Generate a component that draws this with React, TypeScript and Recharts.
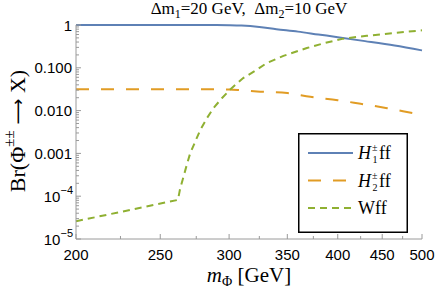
import { LineChart, Line, XAxis, YAxis, Legend } from 'recharts';

// H1± f f branching ratio
const h1Mass = [200, 250, 290, 300, 310, 325, 340, 360, 380, 400, 430, 465, 500];
const h1Br = [1, 1, 0.999, 0.99, 0.97, 0.9, 0.8, 0.7, 0.6, 0.52, 0.42, 0.33, 0.255];

// H2± f f
const h2Mass = [200, 250, 300, 310, 323, 350, 372, 400, 425, 456, 489, 500];
const h2Br = [0.0316, 0.0316, 0.0313, 0.03, 0.028, 0.0257, 0.021, 0.0175, 0.0144, 0.0114, 0.0087, 0.008];

// W f f
const wMass = [200, 230, 262, 263.5, 265.8, 268.2, 270.6, 274.3, 277.9, 282.8, 287.8, 294.3, 302, 311.4, 322.8, 331.4, 346.4, 368.6, 388.6, 405.9, 432, 463.6, 500];
const wBr = [2.6e-5, 4.7e-5, 8.2e-5, 1.5e-4, 2.8e-4, 5.4e-4, 1e-3, 1.9e-3, 3.5e-3, 6.6e-3, 0.0114, 0.0195, 0.0335, 0.0575, 0.09, 0.129, 0.19, 0.29, 0.39, 0.48, 0.56, 0.65, 0.75];

const xMajor = [200, 250, 300, 350, 400, 450, 500];
const xMinor = [225, 275, 325, 375, 425, 475];
const yMajor = [1e-5, 1e-4, 1e-3, 1e-2, 1e-1, 1];
const yMajorText = ['10|−5', '10|−4', '0.001', '0.010', '0.100', '1'];
const yMinor = [1e-5, 1e-4, 1e-3, 1e-2, 1e-1].flatMap(d => [2, 3, 4, 5, 6, 7, 8, 9].map(k => +(d * k).toPrecision(3)));

const BLUE = '#5E81B5';
const ORANGE = '#E19C24';
const GREEN = '#8FB032';
const FRAME = '#9a9a9a';
const SANS = '"Liberation Sans", Arial, sans-serif';
const SERIF = '"Liberation Serif", "Times New Roman", serif';

const toRows = (xs: number[], ys: number[]) => xs.map((m, i) => ({ m, v: ys[i] }));

const XTick = ({ x, y, payload, side }: any) => {
  const major = xMajor.includes(payload.value);
  const len = major ? 5 : 3;
  const dir = side === 'top' ? 1 : -1;
  return (
    <g>
      <line x1={x} x2={x} y1={y} y2={y + dir * len} stroke={FRAME} />
      {major && side !== 'top' && (
        <text x={x} y={y + 15} textAnchor="middle" dominantBaseline="central" fontFamily={SANS} fontSize={15} fill="#000">
          {payload.value}
        </text>
      )}
    </g>
  );
};

const YTick = ({ x, y, payload, side }: any) => {
  const idx = yMajor.indexOf(payload.value);
  const major = idx >= 0;
  const len = major ? 5 : 3;
  const dir = side === 'right' ? -1 : 1;
  let label: any = null;
  if (major && side !== 'right') {
    const t = yMajorText[idx];
    if (t.includes('|')) {
      const [base, exp] = t.split('|');
      label = (
        <text x={x - 3} y={y} textAnchor="end" dominantBaseline="central" fontFamily={SANS} fontSize={15} fill="#000">
          {base}
          <tspan dy={-6} fontSize={11}>{exp}</tspan>
        </text>
      );
    } else {
      label = (
        <text x={x - 4} y={y} textAnchor="end" dominantBaseline="central" fontFamily={SANS} fontSize={15} fill="#000">
          {t}
        </text>
      );
    }
  }
  return (
    <g>
      <line x1={x} x2={x + dir * len} y1={y} y2={y} stroke={FRAME} />
      {label}
    </g>
  );
};

const legendItems = [
  { name: 'H', sub: '1', color: BLUE, dash: undefined },
  { name: 'H', sub: '2', color: ORANGE, dash: '13 12' },
  { name: 'Wff', sub: '', color: GREEN, dash: '7 5' },
];

const renderLegend = () => (
  <svg width={110} height={100} style={{ display: 'block' }}>
    <rect x={0.75} y={0.75} width={108.5} height={98.5} fill="#fff" stroke="#000" strokeWidth={1.5} />
    {legendItems.map((it, i) => {
      const cy = 20 + i * 27.5;
      return (
        <g key={i}>
          <line x1={10} x2={55} y1={cy} y2={cy} stroke={it.color} strokeWidth={2} strokeDasharray={it.dash} />
          {it.sub ? (
            <g fontFamily={SERIF} fill="#000">
              <text x={60} y={cy + 6} fontSize={18} fontStyle="italic">H</text>
              <text x={74} y={cy - 2} fontSize={10}>±</text>
              <text x={74.5} y={cy + 10} fontSize={10}>{it.sub}</text>
              <text x={81} y={cy + 6} fontSize={18}>ff</text>
            </g>
          ) : (
            <text x={60} y={cy + 6} fontSize={18} fontFamily={SERIF} fill="#000">{it.name}</text>
          )}
        </g>
      );
    })}
  </svg>
);

const XLabel = ({ viewBox }: any) => (
  <text x={viewBox.x + viewBox.width / 2} y={282} textAnchor="middle" fontFamily={SERIF} fontSize={21} fill="#000">
    <tspan fontStyle="italic">m</tspan>
    <tspan dy={4} fontSize={14}>Φ</tspan>
    <tspan dy={-4}> [GeV]</tspan>
  </text>
);

const YLabel = () => (
  <text x={17} y={131} transform="rotate(-90, 17, 131)" textAnchor="middle" dominantBaseline="central" fontFamily={SERIF} fontSize={22} fill="#000">
    Br(Φ<tspan dy={-8} fontSize={15}>±±</tspan>
    <tspan dy={8} fontFamily='"DejaVu Sans", sans-serif' fontSize={18}> ⟶ </tspan>
    <tspan>X)</tspan>
  </text>
);

export default function App() {
  return (
    <div style={{ position: 'absolute', left: 0, top: 0, width: 436, height: 294, background: '#fff' }}>
      <div
        style={{
          position: 'absolute',
          left: 76,
          width: 346,
          top: 1,
          textAlign: 'center',
          fontFamily: SERIF,
          fontSize: 17,
          lineHeight: '16px',
          whiteSpace: 'pre',
          color: '#000',
        }}
      >
        Δm<sub style={{ fontSize: 12, lineHeight: 0 }}>1</sub>=20 GeV,  Δm<sub style={{ fontSize: 12, lineHeight: 0 }}>2</sub>=10 GeV
      </div>
      <LineChart width={436} height={294} margin={{ top: 25, right: 14, bottom: 0, left: 0 }}>
        <XAxis
          xAxisId={0}
          dataKey="m"
          type="number"
          scale="log"
          domain={[200, 500]}
          ticks={[...xMajor, ...xMinor]}
          interval={0}
          height={55}
          tickSize={0}
          tickMargin={0}
          tickLine={false}
          axisLine={{ stroke: FRAME }}
          tick={<XTick side="bottom" />}
          label={<XLabel />}
        />
        <XAxis
          xAxisId="top"
          orientation="top"
          dataKey="m"
          type="number"
          scale="log"
          domain={[200, 500]}
          ticks={[...xMajor, ...xMinor]}
          interval={0}
          height={0}
          tickSize={0}
          tickMargin={0}
          tickLine={false}
          axisLine={{ stroke: FRAME }}
          tick={<XTick side="top" />}
        />
        <YAxis
          yAxisId={0}
          type="number"
          scale="log"
          domain={[1e-5, 1]}
          ticks={[...yMajor, ...yMinor]}
          interval={0}
          width={76}
          tickSize={0}
          tickMargin={0}
          tickLine={false}
          axisLine={{ stroke: FRAME }}
          tick={<YTick side="left" />}
          label={<YLabel />}
        />
        <YAxis
          yAxisId="right"
          orientation="right"
          type="number"
          scale="log"
          domain={[1e-5, 1]}
          ticks={[...yMajor, ...yMinor]}
          interval={0}
          width={0}
          tickSize={0}
          tickMargin={0}
          tickLine={false}
          axisLine={{ stroke: FRAME }}
          tick={<YTick side="right" />}
        />
        <Line data={toRows(h1Mass, h1Br)} dataKey="v" type="monotone" stroke={BLUE} strokeWidth={2} dot={false} isAnimationActive={false} />
        <Line data={toRows(h2Mass, h2Br)} dataKey="v" type="monotone" stroke={ORANGE} strokeWidth={2} strokeDasharray="13 12" dot={false} isAnimationActive={false} />
        <Line data={toRows(wMass, wBr)} dataKey="v" type="linear" stroke={GREEN} strokeWidth={2} strokeDasharray="7 5" dot={false} isAnimationActive={false} />
        <Legend
          layout="horizontal"
          verticalAlign="middle"
          content={renderLegend}
          wrapperStyle={{ position: 'absolute', left: 298, top: 133, width: 110, height: 100 }}
        />
      </LineChart>
    </div>
  );
}
